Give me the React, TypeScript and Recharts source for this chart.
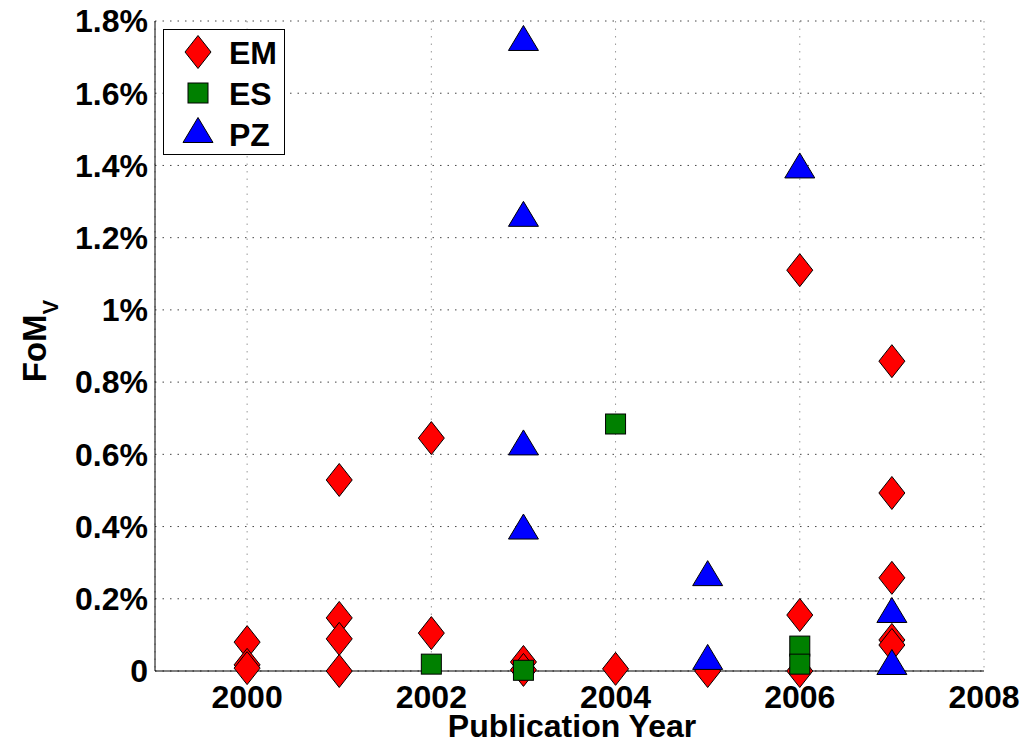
import { ScatterChart, Scatter, XAxis, YAxis, CartesianGrid } from 'recharts'

// 연도 눈금과 FoM 눈금 (%)
const yearTicks = [2000, 2002, 2004, 2006, 2008]
const fomTicks = [0, 0.2, 0.4, 0.6, 0.8, 1, 1.2, 1.4, 1.6, 1.8]

// EM
const emYears = [2000, 2000, 2000, 2001, 2001, 2001, 2001, 2002, 2002, 2003, 2003, 2004, 2005, 2006, 2006, 2006, 2007, 2007, 2007, 2007, 2007]
const emValues = [0.08, 0.017, 0.008, 0.529, 0.147, 0.089, 0.0, 0.645, 0.105, 0.025, 0.003, 0.006, 0.0, 1.11, 0.155, 0.0, 0.858, 0.493, 0.258, 0.086, 0.072]

// ES
const esYears = [2002, 2003, 2004, 2006, 2006]
const esValues = [0.019, 0.002, 0.684, 0.069, 0.019]

// PZ
const pzYears = [2003, 2003, 2003, 2003, 2005, 2005, 2006, 2007, 2007]
const pzValues = [1.753, 1.266, 0.633, 0.4, 0.271, 0.039, 1.4, 0.169, 0.025]

const toPoints = (xs: number[], ys: number[]) => xs.map((x, i) => ({ x, y: ys[i] }))

const emData = toPoints(emYears, emValues)
const esData = toPoints(esYears, esValues)
const pzData = toPoints(pzYears, pzValues)

const FONT = '"Liberation Sans", Arial, sans-serif'

const Diamond = ({ cx, cy }: any) => (
  <polygon
    points={`${cx},${cy - 16.5} ${cx + 13},${cy} ${cx},${cy + 16.5} ${cx - 13},${cy}`}
    fill="#ff0000"
    stroke="#000"
    strokeWidth={1}
  />
)

const Square = ({ cx, cy }: any) => (
  <rect x={cx - 10} y={cy - 10} width={20} height={20} fill="#008000" stroke="#000" strokeWidth={1} />
)

const Triangle = ({ cx, cy }: any) => (
  <polygon
    points={`${cx},${cy - 12.5} ${cx + 15},${cy + 12.5} ${cx - 15},${cy + 12.5}`}
    fill="#0000ff"
    stroke="#000"
    strokeWidth={1}
  />
)

const tickStyle = { fontSize: 32, fontWeight: 'bold', fill: '#000', fontFamily: FONT }

export default function App() {
  return (
    <div
      style={{
        position: 'fixed',
        left: 0,
        top: 0,
        width: 1036,
        height: 743,
        background: '#fff',
        fontFamily: FONT,
        overflow: 'hidden',
      }}
    >
      <ScatterChart width={1036} height={743} margin={{ top: 21, right: 52, bottom: 0, left: 55 }}>
        <CartesianGrid horizontal={false} stroke="#999" strokeDasharray="1.5 6" />
        <CartesianGrid vertical={false} stroke="#444" strokeDasharray="1.5 6" />
        <XAxis
          type="number"
          dataKey="x"
          domain={[1999, 2008]}
          ticks={yearTicks}
          height={72}
          tickLine={false}
          tickSize={0}
          tickMargin={14}
          axisLine={{ stroke: '#000' }}
          tick={tickStyle}
        />
        <YAxis
          type="number"
          dataKey="y"
          domain={[0, 1.8]}
          ticks={fomTicks}
          width={100}
          tickLine={false}
          tickSize={0}
          tickMargin={7}
          axisLine={{ stroke: '#000' }}
          tick={tickStyle}
          tickFormatter={(v: number) => (v === 0 ? '0' : `${v}%`)}
        />
        {/* 안쪽 눈금과 테두리 */}
        <XAxis
          xAxisId="top"
          orientation="top"
          type="number"
          domain={[1999, 2008]}
          ticks={yearTicks}
          allowDataOverflow
          mirror
          height={0}
          tickSize={8}
          tickLine={{ stroke: '#000' }}
          axisLine={{ stroke: '#000' }}
          tick={() => <g />}
        />
        <XAxis
          xAxisId="bottomIn"
          orientation="bottom"
          type="number"
          domain={[1999, 2008]}
          ticks={yearTicks}
          allowDataOverflow
          mirror
          height={0}
          tickSize={8}
          tickLine={{ stroke: '#000' }}
          axisLine={false}
          tick={() => <g />}
        />
        <YAxis
          yAxisId="right"
          orientation="right"
          type="number"
          domain={[0, 1.8]}
          ticks={fomTicks}
          allowDataOverflow
          mirror
          width={0}
          tickSize={8}
          tickLine={{ stroke: '#000' }}
          axisLine={{ stroke: '#000' }}
          tick={() => <g />}
        />
        <YAxis
          yAxisId="leftIn"
          orientation="left"
          type="number"
          domain={[0, 1.8]}
          ticks={fomTicks}
          allowDataOverflow
          mirror
          width={0}
          tickSize={8}
          tickLine={{ stroke: '#000' }}
          axisLine={false}
          tick={() => <g />}
        />
        <Scatter name="EM" data={emData} shape={Diamond} isAnimationActive={false} />
        <Scatter name="ES" data={esData} shape={Square} isAnimationActive={false} />
        <Scatter name="PZ" data={pzData} shape={Triangle} isAnimationActive={false} />
      </ScatterChart>

      {/* 범례 */}
      <div
        style={{
          position: 'absolute',
          left: 163,
          top: 29,
          width: 122,
          height: 126,
          boxSizing: 'border-box',
          border: '1px solid #000',
          background: '#fff',
        }}
      >
        <svg width={122} height={126} style={{ position: 'absolute', left: -1, top: -1 }}>
          <Diamond cx={35} cy={23} />
          <Square cx={35} cy={64} />
          <Triangle cx={35} cy={101} />
          <text x={66} y={35} fontSize={32} fontWeight="bold" fontFamily={FONT}>EM</text>
          <text x={66} y={76} fontSize={32} fontWeight="bold" fontFamily={FONT}>ES</text>
          <text x={66} y={117} fontSize={32} fontWeight="bold" fontFamily={FONT}>PZ</text>
        </svg>
      </div>

      {/* 축 제목 */}
      <div
        style={{
          position: 'absolute',
          left: 572,
          top: 710,
          transform: 'translateX(-50%)',
          fontSize: 32,
          fontWeight: 'bold',
          lineHeight: 1,
          whiteSpace: 'nowrap',
        }}
      >
        Publication Year
      </div>
      <div
        style={{
          position: 'absolute',
          left: 34,
          top: 341,
          transform: 'translate(-50%, -50%) rotate(-90deg)',
          fontSize: 33,
          fontWeight: 'bold',
          lineHeight: 1,
          whiteSpace: 'nowrap',
        }}
      >
        FoM
        <span style={{ fontSize: 22, position: 'relative', top: 12 }}>V</span>
      </div>
    </div>
  )
}
